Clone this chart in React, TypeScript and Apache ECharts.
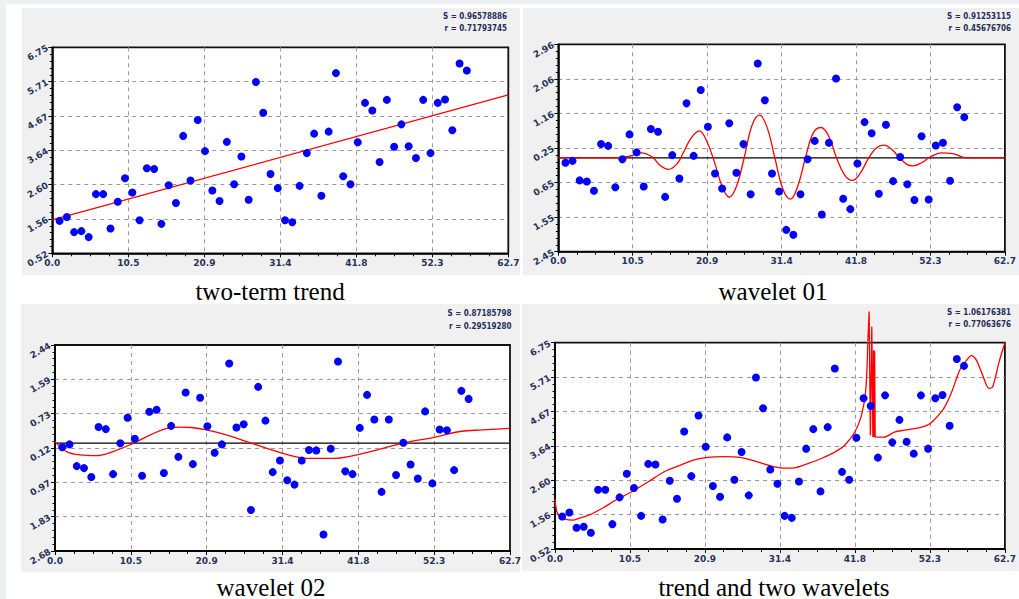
import React, { useEffect, useRef } from "react";
import * as echarts from "echarts";

// ---------- data ----------
const sampleX = [
  1, 2, 3, 4, 5, 6, 7, 8, 9, 10, 11, 12, 13, 14, 15, 16, 17, 18, 19, 20,
  21, 22, 23, 24, 25, 26, 27, 28, 29, 30, 31, 32, 33, 34, 35, 36, 37, 38, 39, 40,
  41, 42, 43, 44, 45, 46, 47, 48, 49, 50, 51, 52, 53, 54, 55, 56, 57,
];

const observed = [
  1.50, 1.62, 1.16, 1.19, 1.01, 2.31, 2.31, 1.27, 2.08, 2.79,
  2.36, 1.52, 3.09, 3.07, 1.41, 2.58, 2.04, 4.07, 2.72, 4.55,
  3.61, 2.42, 2.10, 3.89, 2.61, 3.45, 2.14, 5.70, 4.77, 2.92,
  2.49, 1.52, 1.46, 2.56, 3.55, 4.14, 2.26, 4.20, 5.97, 2.85,
  2.61, 3.88, 5.07, 4.84, 3.28, 5.16, 3.74, 4.42, 3.76, 3.40,
  5.16, 3.55, 5.07, 5.17, 4.24, 6.26, 6.05,
];

const residualAfterTrend = [
  -0.13, -0.08, -0.59, -0.62, -0.86, 0.36, 0.31, -0.77, -0.04, 0.61,
  0.14, -0.75, 0.75, 0.68, -1.02, 0.07, -0.54, 1.42, 0.05, 1.77,
  0.81, -0.41, -0.80, 0.90, -0.39, 0.36, -0.95, 2.46, 1.50, -0.41,
  -0.88, -1.88, -2.01, -0.95, -0.04, 0.44, -1.48, 0.39, 2.07, -1.07,
  -1.34, -0.15, 0.93, 0.64, -0.94, 0.86, -0.61, 0.02, -0.69, -1.10,
  0.56, -1.09, 0.32, 0.39, -0.60, 1.32, 1.06,
];

const residualAfterWavelet01 = [
  -0.10, -0.03, -0.57, -0.62, -0.84, 0.40, 0.35, -0.77, 0.00, 0.63,
  0.11, -0.81, 0.78, 0.83, -0.74, 0.43, -0.34, 1.26, -0.52, 1.13,
  0.42, -0.24, -0.03, 1.98, 0.39, 0.47, -1.66, 1.40, 0.56, -0.72,
  -0.43, -0.92, -1.03, -0.43, -0.17, -0.18, -2.27, -0.14, 2.03, -0.70,
  -0.77, 0.38, 1.20, 0.59, -1.21, 0.59, -0.79, 0.01, -0.53, -0.88,
  0.79, -1.00, 0.34, 0.32, -0.67, 1.30, 1.10,
];

const trendLine = [
  [0, 1.53],
  [62.7, 5.31],
];

const zeroLine = [
  [0, 0],
  [62.7, 0],
];

const wavelet01Curve = [
  [0, 0], [8, 0], [10, 0.04], [11.6, 0.13], [13.2, 0.02], [14.3, -0.2], [15.5, -0.3],
  [16.7, -0.15], [17.6, 0.15], [18.6, 0.5], [19.8, 0.7], [20.8, 0.45], [21.9, -0.1],
  [23, -0.75], [24, -1.03], [25, -0.75], [26.1, 0], [27.2, 0.85], [28.25, 1.11],
  [29.3, 0.8], [30.4, 0], [31.5, -0.8], [32.6, -1.08], [33.6, -0.75], [34.7, 0],
  [35.8, 0.65], [36.9, 0.79], [38, 0.55], [39.1, -0.02], [40.2, -0.45], [41.3, -0.59],
  [42.4, -0.4], [43.5, -0.03], [44.6, 0.25], [45.7, 0.33], [46.8, 0.22], [47.9, 0],
  [49, -0.18], [49.8, -0.21], [51, -0.13], [52.2, 0.02], [53.8, 0.13], [55.4, 0.11],
  [57.2, 0], [62.7, 0],
];

const wavelet02Curve = [
  [0, 0.04], [1.6, -0.21], [3.4, -0.29], [5.7, -0.31], [8, -0.21], [10.8, 0],
  [13.1, 0.2], [15.4, 0.37], [17.2, 0.4], [18.8, 0.39], [20.9, 0.33], [23.7, 0.2],
  [26.4, 0.04], [29.2, -0.13], [31.9, -0.28], [34.7, -0.38], [38.4, -0.38],
  [41.1, -0.31], [43.9, -0.19], [46.6, -0.06], [48.9, 0.04], [52.1, 0.14],
  [55.8, 0.29], [59, 0.33], [62.7, 0.37],
];

const combinedBeforeSpike = [
  [0, 2.03], [0.25, 1.65], [0.7, 1.5], [1.4, 1.42], [2.5, 1.39], [3.4, 1.45],
  [4.8, 1.55], [6.6, 1.75], [8.5, 2.0], [10.7, 2.25], [13, 2.55], [15.3, 2.86],
  [17.6, 3.06], [19.4, 3.21], [21.3, 3.29], [23.5, 3.31], [25.8, 3.29], [28.1, 3.16],
  [30.4, 3.01], [32.2, 2.96], [33.6, 2.98], [35.4, 3.11], [37.2, 3.26], [39.1, 3.46],
  [40.4, 3.66], [41.8, 4.06], [42.7, 4.55], [43.3, 5.3], [43.6, 6.8],
];

const combinedSpike = [
  [43.6, 6.8], [43.78, 7.69], [43.95, 3.95], [44.15, 7.23], [44.3, 3.9],
  [44.4, 6.53], [44.48, 3.9], [44.55, 6.5], [44.62, 3.9], [44.8, 3.9],
];

const combinedAfterSpike = [
  [44.8, 3.9], [45.9, 3.9], [47.3, 4.05], [48.7, 4.11], [50.5, 4.17], [51.9, 4.26],
  [52.8, 4.41], [54.2, 4.77], [55.3, 5.27], [56.4, 5.92], [57.4, 6.23], [58, 6.36],
  [58.7, 6.23], [59.6, 5.77], [60.5, 5.37], [61, 5.42], [61.9, 6.18], [62.7, 6.75],
];

const xTickLabels = ["0.0", "10.5", "20.9", "31.4", "41.8", "52.3", "62.7"];
const yTicksTrend = ["0.52", "1.56", "2.60", "3.64", "4.67", "5.71", "6.75"];
const yTicksW1 = ["2.45", "1.55", "0.65", "0.25", "1.16", "2.06", "2.96"];
const yTicksW2 = ["2.68", "1.83", "0.97", "0.12", "0.73", "1.59", "2.44"];

const yRangeTrend = [0.52, 6.75];
const yRangeW1 = [-2.45, 2.96];
const yRangeW2 = [-2.68, 2.44];
const xRange = [0, 62.7];

const panelTitles = ["two-term trend", "wavelet 01", "wavelet 02", "trend and two wavelets"];
const statsS = ["S = 0.96578886", "S = 0.91253115", "S = 0.87185798", "S = 1.06176381"];
const statsR = ["r = 0.71793745", "r = 0.45676706", "r = 0.29519280", "r = 0.77063676"];

// ---------- layout ----------
const W = 1019;
const H = 599;
const grids = [
  { left: 52.3, top: 47.3, right: W - 508.3, bottom: H - 253.3 },
  { left: 558.3, top: 44.3, right: W - 1011, bottom: H - 251.7 },
  { left: 55, top: 345, right: W - 510, bottom: H - 551 },
  { left: 555, top: 342.7, right: W - 1012.3, bottom: H - 549 },
];
const panelBoxes = [
  { x: 22, y: 8, w: 498, h: 267 },
  { x: 523, y: 8, w: 496, h: 267 },
  { x: 21, y: 304, w: 499, h: 268 },
  { x: 522, y: 304, w: 497, h: 267 },
];
const titlePos = [
  { x: 270, y: 291 },
  { x: 773, y: 291 },
  { x: 271, y: 587 },
  { x: 774, y: 587 },
];
const statsPos = [
  { x: 507, y1: 16, y2: 28 },
  { x: 1011, y1: 16, y2: 28.5 },
  { x: 511.5, y1: 313.5, y2: 326 },
  { x: 1011, y1: 312, y2: 324.5 },
];

const labelColor = "#26335a";

function tickFormatter(labels: string[], range: number[]) {
  return (v: number) => {
    const idx = Math.round(((v - range[0]) / (range[1] - range[0])) * 6);
    return labels[Math.max(0, Math.min(6, idx))];
  };
}

function makeXAxis(gridIndex: number) {
  return {
    type: "value",
    gridIndex,
    min: xRange[0],
    max: xRange[1],
    interval: ((xRange[1] - xRange[0]) / 6) * (1 + 1e-9),
    axisLine: { show: true, onZero: false, lineStyle: { color: "#000", width: 1.5 } },
    axisTick: { show: true, length: 4, lineStyle: { color: "#000", width: 1 } },
    minorTick: { show: true, splitNumber: 4, length: 3, lineStyle: { color: "#000", width: 1 } },
    splitLine: {
      show: true,
      showMinLine: false,
      showMaxLine: false,
      lineStyle: { color: "#9a9a9a", type: [4, 4], width: 1 },
    },
    axisLabel: {
      show: true,
      formatter: tickFormatter(xTickLabels, xRange),
      color: labelColor,
      fontSize: 9,
      fontWeight: "bold",
      fontFamily: "DejaVu Sans",
      margin: 5,
      showMinLabel: true,
      showMaxLabel: true,
    },
  };
}

function makeYAxis(gridIndex: number, range: number[], labels: string[]) {
  return {
    type: "value",
    gridIndex,
    min: range[0],
    max: range[1],
    interval: ((range[1] - range[0]) / 6) * (1 + 1e-9),
    axisLine: { show: true, onZero: false, lineStyle: { color: "#000", width: 1.5 } },
    axisTick: { show: true, length: 4, lineStyle: { color: "#000", width: 1 } },
    minorTick: { show: true, splitNumber: 5, length: 2.5, lineStyle: { color: "#000", width: 1 } },
    splitLine: {
      show: true,
      showMinLine: false,
      showMaxLine: false,
      lineStyle: { color: "#9a9a9a", type: [4, 4], width: 1 },
    },
    axisLabel: {
      show: true,
      formatter: tickFormatter(labels, range),
      color: labelColor,
      fontSize: 9,
      fontWeight: "bold",
      fontFamily: "DejaVu Sans",
      rotate: 30,
      margin: 5,
      showMinLabel: true,
      showMaxLabel: true,
    },
  };
}

function scatterSeries(idx: number, values: number[]) {
  return {
    type: "scatter",
    xAxisIndex: idx,
    yAxisIndex: idx,
    symbol: "circle",
    symbolSize: 8,
    itemStyle: { color: "#0000ff", opacity: 1 },
    data: sampleX.map((x, i) => [x, values[i]]),
    z: 5,
    silent: true,
  };
}

function lineSeries(idx: number, data: number[][], smooth: number | boolean, extra: any = {}) {
  return {
    type: "line",
    xAxisIndex: idx,
    yAxisIndex: idx,
    data,
    smooth,
    showSymbol: false,
    symbol: "none",
    lineStyle: { color: "#ff0000", width: 1.3 },
    z: 4,
    silent: true,
    ...extra,
  };
}

function zeroSeries(idx: number) {
  return {
    type: "line",
    xAxisIndex: idx,
    yAxisIndex: idx,
    data: zeroLine,
    showSymbol: false,
    symbol: "none",
    lineStyle: { color: "#000000", width: 1.3 },
    z: 3,
    silent: true,
  };
}

export default function App() {
  const ref = useRef<HTMLDivElement>(null);

  useEffect(() => {
    if (!ref.current) return;
    const chart = echarts.init(ref.current, undefined, { renderer: "svg" });

    const graphics: any[] = [
      { type: "rect", shape: { x: 0, y: 0, width: W, height: 4 }, style: { fill: "#eef0f3" }, z: -20 },
      { type: "rect", shape: { x: 0, y: 0, width: 6, height: H }, style: { fill: "#eef0f3" }, z: -20 },
    ];
    panelBoxes.forEach((b) => {
      graphics.push({
        type: "rect",
        shape: { x: b.x, y: b.y, width: b.w, height: b.h },
        style: { fill: "#f0f0f0" },
        z: -10,
      });
    });
    panelTitles.forEach((t, i) => {
      graphics.push({
        type: "text",
        x: titlePos[i].x,
        y: titlePos[i].y,
        style: {
          text: t,
          fill: "#000",
          font: "25px 'Liberation Serif', 'Times New Roman', serif",
          textAlign: "center",
          textVerticalAlign: "middle",
        },
        z: 10,
      });
    });
    statsS.forEach((s, i) => {
      graphics.push({
        type: "text",
        x: statsPos[i].x,
        y: statsPos[i].y1,
        style: {
          text: s,
          fill: "#1f2d5a",
          font: "bold 8px 'DejaVu Sans Condensed', 'DejaVu Sans', sans-serif",
          textAlign: "right",
          textVerticalAlign: "middle",
        },
        z: 10,
      });
      graphics.push({
        type: "text",
        x: statsPos[i].x,
        y: statsPos[i].y2,
        style: {
          text: statsR[i],
          fill: "#1f2d5a",
          font: "bold 8px 'DejaVu Sans Condensed', 'DejaVu Sans', sans-serif",
          textAlign: "right",
          textVerticalAlign: "middle",
        },
        z: 10,
      });
    });

    const option: any = {
      animation: false,
      backgroundColor: "#ffffff",
      grid: grids.map((g) => ({
        ...g,
        show: true,
        backgroundColor: "#ffffff",
        borderColor: "#111",
        borderWidth: 1.8,
        containLabel: false,
      })),
      xAxis: [0, 1, 2, 3].map((i) => makeXAxis(i)),
      yAxis: [
        makeYAxis(0, yRangeTrend, yTicksTrend),
        makeYAxis(1, yRangeW1, yTicksW1),
        makeYAxis(2, yRangeW2, yTicksW2),
        makeYAxis(3, yRangeTrend, yTicksTrend),
      ],
      graphic: graphics,
      series: [
        lineSeries(0, trendLine, false),
        scatterSeries(0, observed),
        zeroSeries(1),
        lineSeries(1, wavelet01Curve, 0.4),
        scatterSeries(1, residualAfterTrend),
        zeroSeries(2),
        lineSeries(2, wavelet02Curve, 0.4),
        scatterSeries(2, residualAfterWavelet01),
        lineSeries(3, combinedBeforeSpike, 0.3),
        lineSeries(3, combinedSpike, false, { clip: false }),
        lineSeries(3, combinedAfterSpike, 0.3),
        scatterSeries(3, observed),
      ],
    };
    chart.setOption(option);
    return () => chart.dispose();
  }, []);

  return (
    <div
      ref={ref}
      style={{ position: "fixed", left: 0, top: 0, width: W, height: H }}
    />
  );
}
